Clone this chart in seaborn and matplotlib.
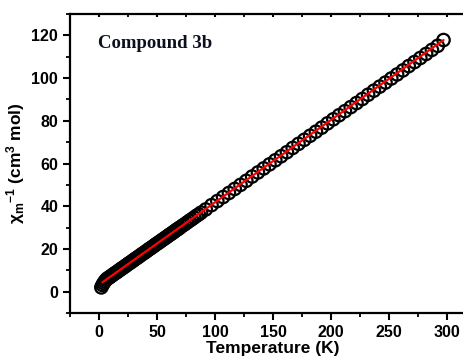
import matplotlib
matplotlib.use("Agg")
import matplotlib.pyplot as plt
import seaborn as sns
import pandas as pd
from matplotlib.ticker import MultipleLocator

# Data
temperature = [2, 3, 4, 5, 6, 7, 8, 9, 10, 11, 12, 13, 14, 15, 16, 17, 18, 19, 20,
               21, 22, 23, 24, 25, 26, 27, 28, 29, 30, 31, 32, 33, 34, 35, 36, 37, 38, 39, 40,
               41, 42, 43, 44, 45, 46, 47, 48, 49, 50, 51, 52, 53, 54, 55, 56, 57, 58, 59, 60,
               61, 62, 63, 64, 65, 66, 67, 68, 69, 70, 72, 74, 76, 78, 80, 82, 84, 86, 88,
               92, 97, 102, 107, 112, 117, 122, 127, 132, 137, 142, 147, 152, 157, 162, 167,
               172, 177, 182, 187, 192, 197, 202, 207, 212, 217, 222, 227, 232, 237, 242, 247,
               252, 257, 262, 267, 272, 277, 282, 287, 292, 297]
chi_inv = [2.0, 3.1, 4.0, 4.8, 5.5, 6.0, 6.4, 6.7, 7.1, 7.5, 7.9, 8.3, 8.7, 9.0, 9.4, 9.8, 10.2, 10.6, 11.0,
           11.3, 11.7, 12.1, 12.5, 12.9, 13.3, 13.6, 14.0, 14.4, 14.8, 15.2, 15.6, 15.9, 16.3, 16.7, 17.1, 17.5, 17.9, 18.2, 18.6,
           19.0, 19.4, 19.8, 20.2, 20.5, 20.9, 21.3, 21.7, 22.1, 22.5, 22.8, 23.2, 23.6, 24.0, 24.4, 24.7, 25.1, 25.5, 25.9, 26.3,
           26.7, 27.0, 27.4, 27.8, 28.2, 28.6, 29.0, 29.3, 29.7, 30.1, 30.9, 31.6, 32.4, 33.2, 33.9, 34.7, 35.5, 36.2, 37.0,
           38.5, 40.5, 42.4, 44.3, 46.2, 48.1, 50.0, 51.9, 53.9, 55.8, 57.7, 59.6, 61.5, 63.4, 65.3, 67.3,
           69.2, 71.1, 73.0, 74.9, 76.8, 78.8, 80.7, 82.6, 84.5, 86.4, 88.3, 90.2, 92.2, 94.1, 96.0, 97.9,
           99.8, 101.7, 103.6, 105.6, 107.5, 109.4, 111.3, 113.2, 115.1, 117.8]
fit_temperature = [3, 297]
fit_chi_inv = [4.4, 117.8]
x_ticks = [0, 50, 100, 150, 200, 250, 300]
y_ticks = [0, 20, 40, 60, 80, 100, 120]

sns.set_style("ticks")
plt.rcParams["font.family"] = ["Liberation Sans", "DejaVu Sans"]
plt.rcParams["font.weight"] = "bold"
plt.rcParams["mathtext.default"] = "regular"
plt.rcParams["text.color"] = "black"
plt.rcParams["axes.labelcolor"] = "black"
plt.rcParams["xtick.color"] = "black"
plt.rcParams["ytick.color"] = "black"

df = pd.DataFrame({"T": temperature, "chi": chi_inv})
fit = pd.DataFrame({"T": fit_temperature, "chi": fit_chi_inv})

fig = plt.figure(figsize=(4.64, 3.62), dpi=100)
ax = fig.add_axes([70 / 464, 49 / 362, 406 / 464, 299 / 362])

sns.scatterplot(data=df, x="T", y="chi", ax=ax, marker="o", s=80,
                facecolors="none", edgecolor="black", linewidth=1.6, zorder=2)
sns.lineplot(data=fit, x="T", y="chi", ax=ax, color="#ff0000", linewidth=1.6, zorder=3)

ax.set_xlim(-25, 325)
ax.set_ylim(-10, 130)
ax.set_xticks(x_ticks)
ax.set_yticks(y_ticks)
ax.xaxis.set_minor_locator(MultipleLocator(25))
ax.yaxis.set_minor_locator(MultipleLocator(10))

for s in ax.spines.values():
    s.set_linewidth(1.6)
    s.set_color("black")
ax.spines["right"].set_visible(False)

ax.tick_params(axis="both", which="major", direction="out", length=5, width=1.5,
               labelsize=11.5, colors="black", labelcolor="black")
ax.tick_params(axis="both", which="minor", direction="out", length=3, width=1.3)
ax.tick_params(axis="x", which="both", top=True, labeltop=False)
for lab in ax.get_xticklabels() + ax.get_yticklabels():
    lab.set_fontweight("bold")

for t in ax.xaxis.get_major_ticks() + ax.xaxis.get_minor_ticks():
    t.tick2line.set_marker(3)  # TICKDOWN: inward from top spine
    t.tick2line.set_markersize(2.5)

ax.set_xlabel("Temperature (K)", fontsize=12.5, fontweight="bold", labelpad=1, color="black")
ax.set_ylabel(r"χ$_{m}$$^{-1}$ (cm$^{3}$ mol)", fontsize=12.5, fontweight="bold",
              labelpad=3, color="black")

ax.text(0.07, 0.9, "Compound 3b", transform=ax.transAxes,
        fontsize=13.5, fontweight="bold", family="Liberation Serif",
        color="#0a1020", ha="left", va="center")

fig.savefig("out.png", dpi=100)
